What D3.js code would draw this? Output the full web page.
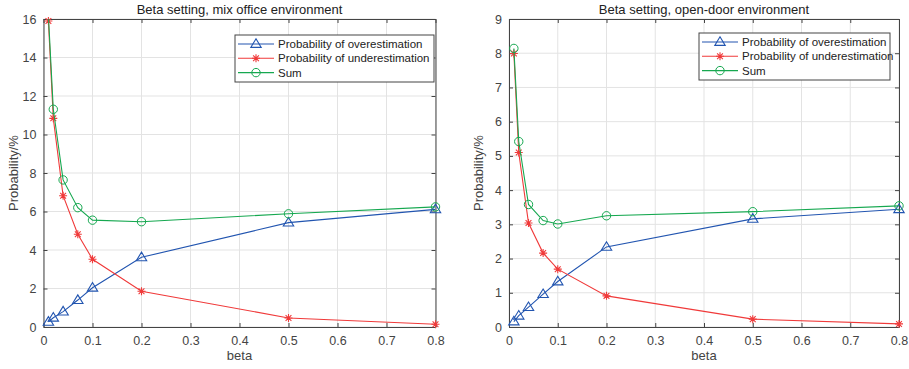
<!DOCTYPE html>
<html><head><meta charset="utf-8">
<script src="https://cdn.jsdelivr.net/npm/d3@7"></script>
<style>body{margin:0;background:#fff;}svg{display:block;font-family:"Liberation Sans",Arial,sans-serif;}</style>
</head><body><svg id="c" width="909" height="369"></svg>
<script>
const betas = [0.01, 0.02, 0.04, 0.07, 0.1, 0.2, 0.5, 0.8];
const xTicks = [0, 0.1, 0.2, 0.3, 0.4, 0.5, 0.6, 0.7, 0.8];
const seriesNames = ["Probability of overestimation", "Probability of underestimation", "Sum"];
// Left: mix office
const officeOver  = [0.27, 0.48, 0.8, 1.4, 2.04, 3.62, 5.42, 6.11];
const officeUnder = [15.9, 10.84, 6.82, 4.82, 3.52, 1.86, 0.47, 0.14];
const officeSum   = [16.17, 11.31, 7.64, 6.2, 5.55, 5.47, 5.88, 6.24];
const officeYTicks = [0, 2, 4, 6, 8, 10, 12, 14, 16];
// Right: open-door
const doorOver  = [0.16, 0.33, 0.58, 0.96, 1.33, 2.34, 3.16, 3.44];
const doorUnder = [7.99, 5.1, 3.04, 2.16, 1.69, 0.91, 0.23, 0.09];
const doorSum   = [8.14, 5.42, 3.58, 3.11, 3.01, 3.25, 3.37, 3.54];
const doorYTicks = [0, 1, 2, 3, 4, 5, 6, 7, 8, 9];

const colors = ["#2255b0", "#f03a3a", "#16a850"];
const markers = ["tri", "star", "circ"];
const svg = d3.select("#c");

function drawMarker(g, type, x, y, color) {
  if (type === "tri") {
    const s = 5.2;
    g.append("path").attr("d", `M${x},${y - s}L${x + s * 1.0},${y + s * 0.65}L${x - s * 1.0},${y + s * 0.65}Z`)
      .attr("fill", "none").attr("stroke", color).attr("stroke-width", 1.1);
  } else if (type === "star") {
    const s = 4, d = 2.9;
    g.append("path").attr("d", `M${x - s},${y}L${x + s},${y}M${x},${y - s}L${x},${y + s}M${x - d},${y - d}L${x + d},${y + d}M${x - d},${y + d}L${x + d},${y - d}`)
      .attr("stroke", color).attr("stroke-width", 1.1).attr("fill", "none");
  } else {
    g.append("circle").attr("cx", x).attr("cy", y).attr("r", 4.2)
      .attr("fill", "none").attr("stroke", color).attr("stroke-width", 1);
  }
}

function panel(opt) {
  const { x0, x1, y0, y1, yMax, yTicks, data, title, legend, id } = opt;
  const x = d3.scaleLinear().domain([0, 0.8]).range([x0, x1]);
  const y = d3.scaleLinear().domain([0, yMax]).range([y1, y0]);
  const g = svg.append("g");
  // grid
  g.append("g").selectAll("line").data(xTicks).join("line")
    .attr("x1", d => x(d)).attr("x2", d => x(d)).attr("y1", y0).attr("y2", y1)
    .attr("stroke", "#e3e3e3").attr("stroke-width", 1);
  g.append("g").selectAll("line").data(yTicks).join("line")
    .attr("y1", d => y(d)).attr("y2", d => y(d)).attr("x1", x0).attr("x2", x1)
    .attr("stroke", "#e3e3e3").attr("stroke-width", 1);
  // axes
  const ax = g.append("g").attr("transform", `translate(0,${y1})`)
    .call(d3.axisBottom(x).tickValues(xTicks).tickFormat(d => d === 0 ? "0" : d3.format(".1f")(d)).tickSizeInner(-4).tickSizeOuter(0).tickPadding(9));
  const ay = g.append("g").attr("transform", `translate(${x0},0)`)
    .call(d3.axisLeft(y).tickValues(yTicks).tickFormat(d3.format("d")).tickSizeInner(-4).tickSizeOuter(0).tickPadding(7));
  const at = g.append("g").attr("transform", `translate(0,${y0})`)
    .call(d3.axisTop(x).tickValues(xTicks).tickFormat("").tickSizeInner(-4).tickSizeOuter(0));
  const ar = g.append("g").attr("transform", `translate(${x1},0)`)
    .call(d3.axisRight(y).tickValues(yTicks).tickFormat("").tickSizeInner(-4).tickSizeOuter(0));
  [ax, ay, at, ar].forEach(a => {
    a.select(".domain").attr("stroke", "#444").attr("stroke-width", 1);
    a.selectAll(".tick line").attr("stroke", "#444");
    a.selectAll("text").attr("fill", "#444").attr("font-size", 12.5).attr("font-family", "Liberation Sans, Arial, sans-serif");
  });
  // clip
  svg.append("clipPath").attr("id", id).append("rect").attr("x", x0).attr("y", y0).attr("width", x1 - x0).attr("height", y1 - y0);
  const line = d3.line().x((d, i) => x(betas[i])).y(d => y(d));
  [0, 1, 2].forEach(k => {
    g.append("path").datum(data[k]).attr("d", line).attr("clip-path", `url(#${id})`)
      .attr("fill", "none").attr("stroke", colors[k]).attr("stroke-width", 1.1);
    const mg = g.append("g");
    data[k].forEach((v, i) => { if (v <= yMax) drawMarker(mg, markers[k], x(betas[i]), y(v), colors[k]); });
  });
  // title & labels
  g.append("text").attr("x", (x0 + x1) / 2).attr("y", 14).attr("text-anchor", "middle")
    .attr("font-size", 13).attr("fill", "#222").text(title);
  g.append("text").attr("x", (x0 + x1) / 2).attr("y", 360).attr("text-anchor", "middle")
    .attr("font-size", 13).attr("fill", "#444").text("beta");
  g.append("text").attr("transform", `translate(${x0 - 26},${(y0 + y1) / 2}) rotate(-90)`).attr("text-anchor", "middle")
    .attr("font-size", 13).attr("fill", "#444").text("Probability/%");
  // legend
  const lg = g.append("g");
  lg.append("rect").attr("x", legend.x).attr("y", legend.y).attr("width", legend.w).attr("height", legend.h)
    .attr("fill", "#fff").attr("stroke", "#444").attr("stroke-width", 1);
  seriesNames.forEach((n, k) => {
    const yy = legend.y + 9 + k * 14.3;
    lg.append("line").attr("x1", legend.x + 3).attr("x2", legend.x + 39).attr("y1", yy).attr("y2", yy)
      .attr("stroke", colors[k]).attr("stroke-width", 1.1);
    drawMarker(lg, markers[k], legend.x + 21, yy, colors[k]);
    lg.append("text").attr("x", legend.x + 43).attr("y", yy + 4).attr("font-size", 11.5).attr("fill", "#222").text(n);
  });
}

panel({ x0: 43.5, x1: 435.5, y0: 19, y1: 327, yMax: 16, yTicks: officeYTicks,
  data: [officeOver, officeUnder, officeSum], title: "Beta setting, mix office environment",
  legend: { x: 235, y: 35, w: 199, h: 47 }, id: "clipL" });
panel({ x0: 509, x1: 899, y0: 19, y1: 327, yMax: 9, yTicks: doorYTicks,
  data: [doorOver, doorUnder, doorSum], title: "Beta setting, open-door environment",
  legend: { x: 699, y: 33, w: 191, h: 47 }, id: "clipR" });
</script></body></html>
